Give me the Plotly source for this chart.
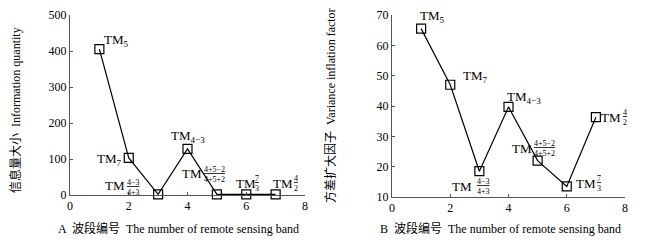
import plotly.graph_objects as go

bands = [1, 2, 3, 4, 5, 6, 7]
info_quantity = [405, 103, 2, 128, 2, 2, 2]
vif = [65.5, 47, 18.5, 39.7, 22, 13.5, 36.3]

# label parts: subscript, or fraction numerator / denominator
label_sub = ["5", "7", None, "4−3", None, None, None]
label_num = [None, None, "4−3", None, "4+5−2", "7", "4"]
label_den = [None, None, "4+3", None, "4+5+2", "3", "2"]

xticks = [0, 2, 4, 6, 8]
left_yticks = [0, 100, 200, 300, 400, 500]
right_yticks = [10, 20, 30, 40, 50, 60, 70]

FONT = "Liberation Serif, Times New Roman, serif"
CJK = "Liberation Serif, Noto Sans CJK SC, sans-serif"

# page body has an 8px margin; figure coordinates are page coordinates minus 8
PAD = 8
W, H = 647 - PAD, 243 - PAD


def px(x):
    return (x - PAD) / W


def py(y):
    return 1 - (y - PAD) / H


L_x = (px(70), px(305))
L_y = (py(195), py(15))
R_x = (px(392), px(625))
R_y = (py(197), py(15))

fig = go.Figure()
marker = dict(symbol="square-open", size=9, color="black", line=dict(width=1.2))
fig.add_trace(go.Scatter(x=bands, y=info_quantity, mode="lines+markers",
                         line=dict(color="black", width=1.2), marker=marker,
                         xaxis="x", yaxis="y", showlegend=False, cliponaxis=False))
fig.add_trace(go.Scatter(x=bands, y=vif, mode="lines+markers",
                         line=dict(color="black", width=1.2), marker=marker,
                         xaxis="x2", yaxis="y2", showlegend=False, cliponaxis=False))

axis_common = dict(showgrid=False, zeroline=False, showline=True, linecolor="#555",
                   linewidth=1, ticks="inside", ticklen=3, tickcolor="#555",
                   automargin=False, ticklabeloverflow="allow",
                   tickfont=dict(family=FONT, size=12, color="black"))

fig.update_layout(
    width=W, height=H, margin=dict(l=0, r=0, t=0, b=0, autoexpand=False),
    paper_bgcolor="white", plot_bgcolor="white",
    xaxis=dict(domain=L_x, range=[0, 8], tickvals=xticks, anchor="y", **axis_common),
    yaxis=dict(domain=L_y, range=[0, 500], tickvals=left_yticks, anchor="x", **axis_common),
    xaxis2=dict(domain=R_x, range=[0, 8], tickvals=xticks, anchor="y2", **axis_common),
    yaxis2=dict(domain=R_y, range=[10, 70], tickvals=right_yticks, anchor="x2", **axis_common),
)

title_font = dict(family=CJK, size=12, color="black")
fig.add_annotation(text="A  波段编号  The number of remote sensing band", xref="paper", yref="paper",
                   x=px(178), y=py(228), xanchor="center", yanchor="middle",
                   showarrow=False, font=title_font)
fig.add_annotation(text="B  波段编号  The number of remote sensing band", xref="paper", yref="paper",
                   x=px(500), y=py(228), xanchor="center", yanchor="middle",
                   showarrow=False, font=title_font)
fig.add_annotation(text="信息量大小  Information quantity", xref="paper", yref="paper",
                   x=px(16), y=py(110), xanchor="center", yanchor="middle",
                   showarrow=False, textangle=-90, font=title_font)
fig.add_annotation(text="方差扩大因子  Variance inflation factor", xref="paper", yref="paper",
                   x=px(331), y=py(106), xanchor="center", yanchor="middle",
                   showarrow=False, textangle=-90, font=title_font)

# pixel offsets (dx, dy up-positive) of "TM" label centre, and of fraction centre
left_tm = [(17, 9), (-19, -2), (-43, 9), (0, 12), (-25, 21), (0, 11), (7, 11)]
left_frac = [None, None, (-25, 7), None, (-2, 20), (11, 11), (20, 11)]
right_tm = [(11, 12), (25, 8), (-17, -15), (15, 9), (-16, 12), (19, 3), (15, 0)]
right_frac = [None, None, (4, -15), None, (7, 12), (32, 3), (29, 0)]


def add_labels(xs, ys, tm_offs, fr_offs, xref, yref):
    for i, (x, y) in enumerate(zip(xs, ys)):
        dx, dy = tm_offs[i]
        if label_sub[i] is not None:
            fig.add_annotation(text="TM<sub>" + label_sub[i] + "</sub>", x=x, y=y,
                               xref=xref, yref=yref, showarrow=False,
                               xanchor="center", yanchor="middle",
                               xshift=dx, yshift=dy,
                               font=dict(family=FONT, size=13, color="black"))
        else:
            fig.add_annotation(text="TM", x=x, y=y, xref=xref, yref=yref,
                               showarrow=False, xanchor="center", yanchor="middle",
                               xshift=dx, yshift=dy,
                               font=dict(family=FONT, size=13, color="black"))
            fx, fy = fr_offs[i]
            fig.add_annotation(text="<u>" + label_num[i] + "</u><br>" + label_den[i], x=x, y=y,
                               xref=xref, yref=yref, showarrow=False,
                               xanchor="center", yanchor="middle",
                               xshift=fx, yshift=fy, align="center",
                               font=dict(family=FONT, size=8, color="black"))


add_labels(bands, info_quantity, left_tm, left_frac, "x", "y")
add_labels(bands, vif, right_tm, right_frac, "x2", "y2")

fig.write_html("out.html")
